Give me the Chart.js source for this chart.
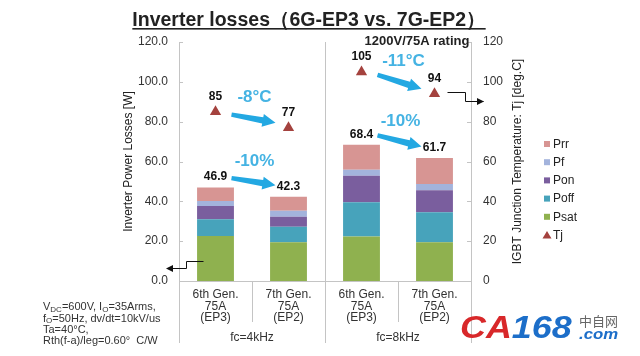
<!DOCTYPE html>
<html>
<head>
<meta charset="utf-8">
<script src="https://cdn.jsdelivr.net/npm/chart.js@4.4.1/dist/chart.umd.min.js"></script>
<style>
html,body{margin:0;padding:0;background:#fff;}
#wrap{width:640px;height:356px;}
</style>
</head>
<body>
<div id="wrap"><canvas id="c" width="640" height="356"></canvas></div>
<script>
// ---- data ----
const categories = [["6th Gen.","75A","(EP3)"],["7th Gen.","75A","(EP2)"],["6th Gen.","75A","(EP3)"],["7th Gen.","75A","(EP2)"]];
const groupLabels = ["fc=4kHz","fc=8kHz"];
const psat = [22.6, 19.5, 22.4, 19.4];
const poff = [8.4, 7.8, 17.1, 15.1];
const pon  = [6.7, 5.0, 13.4, 11.1];
const pf   = [2.5, 3.0, 2.9, 3.1];
const prr  = [6.7, 7.0, 12.6, 13.0];
const totalLabels = ["46.9","42.3","68.4","61.7"];
const tj = [85, 77, 105, 94];
const tjLabels = ["85","77","105","94"];
const lossChange = ["-10%","-10%"];
const tjChange = ["-8°C","-11°C"];
const titleText = "Inverter losses（6G-EP3 vs. 7G-EP2）";
const ratingText = "1200V/75A rating";
const leftAxisTitle = "Inverter Power Losses [W]";
const rightAxisTitle = "IGBT Junction Temperature: Tj [deg.C]";

const FONT = "'Liberation Sans', Arial, sans-serif";
const C = {prr:'#d79593', pf:'#a3b3dc', pon:'#7a5e9e', poff:'#47a3bb', psat:'#8fb14f', tj:'#a4423e', cyan:'#23a8e2', cyanText:'#45b3e3', grid:'#c4c4c4', text:'#333'};

function fatArrow(ctx, x1, y1, x2, y2, color){
  const dx = x2-x1, dy = y2-y1, len = Math.hypot(dx,dy);
  const ux = dx/len, uy = dy/len, nx = -uy, ny = ux;
  const hl = 13, hw = 6.5, tw = 2.2, sw = 3.2;
  const bx = x2 - ux*hl, by = y2 - uy*hl;
  ctx.save(); ctx.fillStyle = color; ctx.beginPath();
  ctx.moveTo(x1+nx*tw, y1+ny*tw);
  ctx.lineTo(bx+nx*sw, by+ny*sw);
  ctx.lineTo(bx+nx*hw, by+ny*hw);
  ctx.lineTo(x2, y2);
  ctx.lineTo(bx-nx*hw, by-ny*hw);
  ctx.lineTo(bx-nx*sw, by-ny*sw);
  ctx.lineTo(x1-nx*tw, y1-ny*tw);
  ctx.closePath(); ctx.fill(); ctx.restore();
}
function elbowArrow(ctx, pts, dir){
  ctx.save(); ctx.strokeStyle='#111'; ctx.fillStyle='#111'; ctx.lineWidth=1;
  ctx.beginPath(); ctx.moveTo(pts[0][0]+.5, pts[0][1]+.5);
  for(let i=1;i<pts.length;i++) ctx.lineTo(pts[i][0]+.5, pts[i][1]+.5);
  ctx.stroke();
  const e = pts[pts.length-1];
  ctx.beginPath();
  ctx.moveTo(e[0]+dir*1, e[1]+.5);
  ctx.lineTo(e[0]-dir*6, e[1]+.5-3.5);
  ctx.lineTo(e[0]-dir*6, e[1]+.5+3.5);
  ctx.closePath(); ctx.fill();
  ctx.restore();
}
function richLine(ctx, x, y, parts, size){
  let cx = x;
  for(const p of parts){
    const sub = p.sub;
    ctx.font = (sub? (size-3):size) + 'px ' + FONT;
    ctx.fillText(p.t, cx, y + (sub?2.5:0));
    cx += ctx.measureText(p.t).width;
  }
}

const decor = {
  id:'decor',
  afterDraw(chart){
    const ctx = chart.ctx, x = chart.scales.x, y = chart.scales.y, y2 = chart.scales.y2, a = chart.chartArea;
    const n = categories.length;
    const cw = (x.getPixelForValue(1) - x.getPixelForValue(0));
    const cen = i => x.getPixelForValue(i);
    const bound = i => cen(0) - cw/2 + i*cw;
    const totals = psat.map((v,i)=>v+poff[i]+pon[i]+pf[i]+prr[i]);
    ctx.save();
    // divider lines
    ctx.strokeStyle = C.grid; ctx.lineWidth = 1;
    const line = (x0,ya,yb)=>{ctx.beginPath();ctx.moveTo(Math.round(x0)+.5,ya);ctx.lineTo(Math.round(x0)+.5,yb);ctx.stroke();};
    line(bound(2), a.top, a.bottom);
    for(let i=0;i<=n;i++){ line(bound(i), a.bottom, (i%2===0)? a.bottom+62 : a.bottom+41); }
    // inner ticks
    y.ticks.forEach(t=>{const py=Math.round(y.getPixelForValue(t.value))+.5; ctx.beginPath(); ctx.moveTo(a.left,py); ctx.lineTo(a.left+4,py); ctx.stroke();});
    y2.ticks.forEach(t=>{const py=Math.round(y2.getPixelForValue(t.value))+.5; ctx.beginPath(); ctx.moveTo(a.right-4,py); ctx.lineTo(a.right,py); ctx.stroke();});
    // right axis title (reads bottom-to-top)
    ctx.save();
    ctx.translate(518, (a.top+a.bottom)/2); ctx.rotate(-Math.PI/2);
    ctx.fillStyle = '#222'; ctx.font = '12px '+FONT; ctx.textAlign='center'; ctx.textBaseline='middle';
    ctx.fillText(rightAxisTitle, 0, 0);
    ctx.restore();
    // group labels
    ctx.fillStyle = C.text; ctx.font = '12px '+FONT; ctx.textAlign='center'; ctx.textBaseline='middle';
    groupLabels.forEach((g,k)=>{ ctx.fillText(g, (cen(2*k)+cen(2*k+1))/2, a.bottom+57); });
    // title
    ctx.fillStyle = '#222'; ctx.font = 'bold 20px '+FONT; ctx.textAlign='center'; ctx.textBaseline='alphabetic';
    const tx = 309;
    ctx.save(); ctx.translate(tx, 0); ctx.scale(0.975, 1);
    const tw = ctx.measureText(titleText).width;
    ctx.fillText(titleText, 0, 26);
    ctx.fillRect(-tw/2, 28, tw, 1.6);
    ctx.restore();
    ctx.font = 'bold 13px '+FONT; ctx.fillText(ratingText, 417, 45);
    // value labels
    ctx.fillStyle = '#111'; ctx.font = 'bold 12px '+FONT; ctx.textBaseline='middle';
    totals.forEach((v,i)=>{ ctx.fillText(totalLabels[i], cen(i), y.getPixelForValue(v) - 10.5); });
    tj.forEach((v,i)=>{ ctx.fillText(tjLabels[i], cen(i), y2.getPixelForValue(v) - 15); });
    // change arrows
    for(let k=0;k<2;k++){
      const i0 = 2*k, i1 = 2*k+1;
      let sx = cen(i0)+16, sy = y2.getPixelForValue(tj[i0])+3, ex = cen(i1)-13, ey = y2.getPixelForValue(tj[i1])-5;
      fatArrow(ctx, sx, sy, ex, ey, C.cyan);
      ctx.fillStyle = C.cyanText; ctx.font = 'bold 17px '+FONT;
      ctx.fillText(tjChange[k], (sx+ex)/2 + (k?4:1), (sy+ey)/2 - 21);
      sx = cen(i0)+16; sy = y.getPixelForValue(totals[i0]) - 9.5; ex = cen(i1)-13; ey = y.getPixelForValue(totals[i1]) - 11.5;
      fatArrow(ctx, sx, sy, ex, ey, C.cyan);
      ctx.fillStyle = C.cyanText;
      ctx.fillText(lossChange[k], (sx+ex)/2 + 1, (sy+ey)/2 - 20);
    }
    // elbow arrows
    const lx0 = Math.round(cen(0)-13), ly0 = Math.round(y.getPixelForValue(10));
    elbowArrow(ctx, [[lx0, ly0],[lx0-17, ly0],[lx0-17, ly0+7],[a.left-12, ly0+7]], -1);
    const rx0 = Math.round(cen(3)+12), ry0 = Math.round(y2.getPixelForValue(tj[3])-2);
    elbowArrow(ctx, [[rx0, ry0],[a.right-6, ry0],[a.right-6, ry0+9],[a.right+12, ry0+9]], 1);
    // legend
    const items = [['Prr',C.prr,'sq'],['Pf',C.pf,'sq'],['Pon',C.pon,'sq'],['Poff',C.poff,'sq'],['Psat',C.psat,'sq'],['Tj',C.tj,'tri']];
    ctx.font = '12px '+FONT; ctx.textAlign='left'; ctx.textBaseline='middle';
    items.forEach((it,i)=>{
      const ly = 144 + i*18.2, lx = 547;
      ctx.fillStyle = it[1];
      if(it[2]==='sq'){ ctx.fillRect(lx-3, ly-3, 6, 6); }
      else { ctx.beginPath(); ctx.moveTo(lx, ly-4); ctx.lineTo(lx+4.5, ly+3.5); ctx.lineTo(lx-4.5, ly+3.5); ctx.closePath(); ctx.fill(); }
      ctx.fillStyle = '#222'; ctx.fillText(it[0], lx+6, ly+0.5);
    });
    // notes
    ctx.fillStyle = C.text; ctx.textAlign='left'; ctx.textBaseline='middle';
    richLine(ctx, 43, 307, [{t:'V'},{t:'DC',sub:1},{t:'=600V, I'},{t:'O',sub:1},{t:'=35Arms,'}], 11);
    richLine(ctx, 43, 318.5, [{t:'f'},{t:'O',sub:1},{t:'=50Hz, dv/dt=10kV/us'}], 11);
    richLine(ctx, 43, 330, [{t:'Ta=40°C,'}], 11);
    richLine(ctx, 43, 341, [{t:'Rth(f-a)/leg=0.60°  C/W'}], 11);
    // watermark
    ctx.textBaseline='alphabetic';
    ctx.save(); ctx.translate(460, 338); ctx.scale(1.12, 1);
    ctx.font = 'italic bold 32px '+FONT; ctx.fillStyle = '#d8282a'; ctx.fillText('CA', 0, 0);
    let wx = ctx.measureText('CA').width;
    ctx.fillStyle = '#1c6ec9'; ctx.fillText('168', wx, 0);
    ctx.restore();
    ctx.font = '13px "Noto Sans CJK SC", sans-serif'; ctx.fillStyle = '#666'; ctx.fillText('中自网', 579, 326);
    ctx.save(); ctx.translate(579, 339); ctx.scale(1.2,1);
    ctx.font = 'italic bold 14px '+FONT; ctx.fillStyle = '#1c6ec9'; ctx.fillText('.com', 0, 0);
    ctx.restore();
    ctx.restore();
  }
};

const barDs = (label, data, color) => ({type:'bar', label, data, backgroundColor:color, borderWidth:0, stack:'s', yAxisID:'y', barPercentage:0.505, categoryPercentage:1.0, order:2});

new Chart(document.getElementById('c'), {
  data:{
    labels: categories,
    datasets:[
      {type:'line', label:'Tj', data:tj, yAxisID:'y2', showLine:false, pointStyle:'triangle', pointRadius:6.5, pointBackgroundColor:C.tj, pointBorderColor:C.tj, pointBorderWidth:0, order:0},
      barDs('Psat', psat, C.psat),
      barDs('Poff', poff, C.poff),
      barDs('Pon', pon, C.pon),
      barDs('Pf', pf, C.pf),
      barDs('Prr', prr, C.prr)
    ]
  },
  options:{
    responsive:false, animation:false, devicePixelRatio:1,
    layout:{padding:{top:42,left:0,right:0,bottom:0}},
    plugins:{legend:{display:false}, tooltip:{enabled:false}, title:{display:false}},
    scales:{
      x:{stacked:true, offset:true, grid:{display:false, drawTicks:false}, border:{display:true, color:C.grid},
         ticks:{padding:8, color:C.text, font:{family:FONT, size:12, lineHeight:0.96}, maxRotation:0, autoSkip:false},
         afterFit(s){ s.height = 75; }},
      y:{position:'left', stacked:true, min:0, max:120, grid:{display:false, drawTicks:false}, border:{display:true, color:C.grid},
         ticks:{stepSize:20, padding:11, color:C.text, font:{family:FONT, size:12}, callback:v=>Number(v).toFixed(1)},
         title:{display:true, text:leftAxisTitle, color:'#222', font:{family:FONT, size:12}, padding:{top:121, bottom:0}},
         afterFit(s){ s.width = 179; }},
      y2:{position:'right', min:0, max:120, grid:{display:false, drawTicks:false}, border:{display:true, color:C.grid},
         ticks:{stepSize:20, padding:12, color:C.text, font:{family:FONT, size:12}},
         title:{display:false},
         afterFit(s){ s.width = 169; }}
    }
  },
  plugins:[decor]
});
</script>
</body>
</html>
